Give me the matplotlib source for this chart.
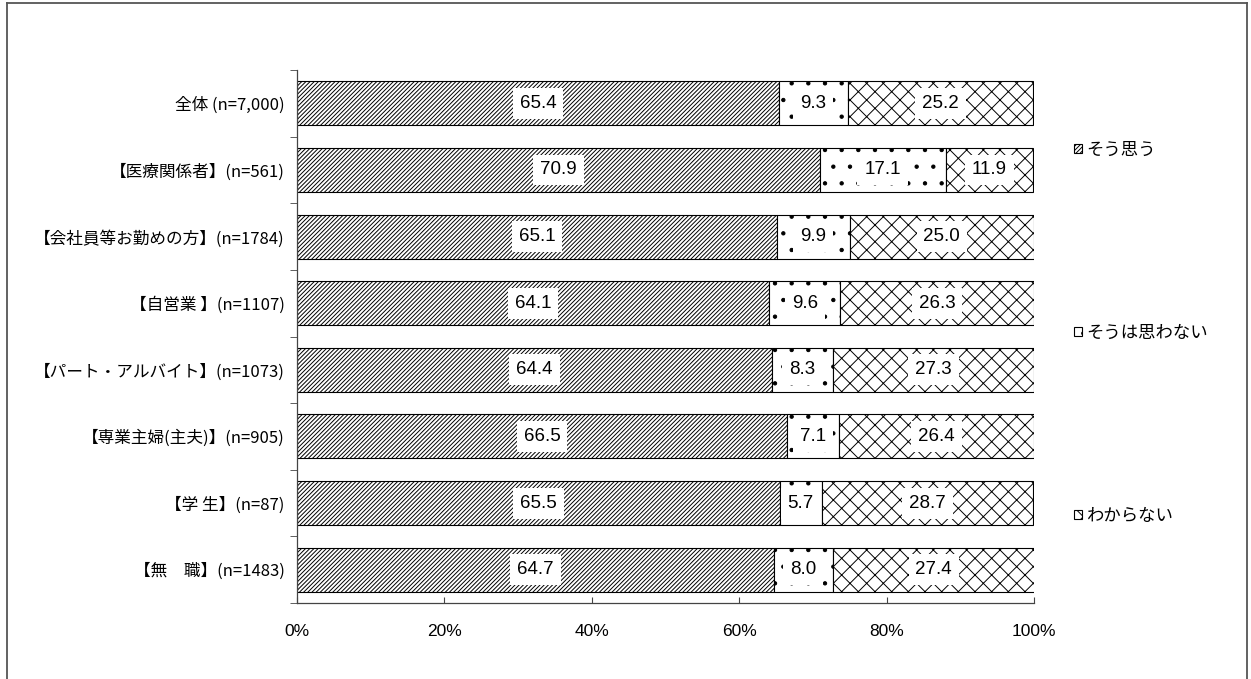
import numpy as np
import matplotlib
matplotlib.use("Agg")
import matplotlib.pyplot as plt
from matplotlib.lines import Line2D
from matplotlib.ticker import FixedLocator, FuncFormatter

plt.rcParams["font.family"] = ["Noto Sans CJK JP", "DejaVu Sans"]
plt.rcParams["hatch.linewidth"] = 0.7

# data
groups = ["全体 (n=7,000)", "【医療関係者】(n=561)", "【会社員等お勤めの方】(n=1784)",
          "【自営業 】(n=1107)", "【パート・アルバイト】(n=1073)", "【専業主婦(主夫)】(n=905)",
          "【学 生】(n=87)", "【無　職】(n=1483)"]
agree = [65.4, 70.9, 65.1, 64.1, 64.4, 66.5, 65.5, 64.7]
disagree = [9.3, 17.1, 9.9, 9.6, 8.3, 7.1, 5.7, 8.0]
unknown = [25.2, 11.9, 25.0, 26.3, 27.3, 26.4, 28.7, 27.4]
series_names = ["そう思う", "そうは思わない", "わからない"]
hatches = ["////////", ".", "xx"]

num_font = ["Liberation Sans Narrow", "Liberation Sans"]

fig = plt.figure(figsize=(12.51, 6.79), dpi=100)
ax = fig.add_axes([297 / 1251, 1 - 603 / 679, (1034 - 297) / 1251, (603 - 70) / 679])

y = np.arange(len(groups))
left = np.zeros(len(groups))
handles = []
for vals, name, h in zip([agree, disagree, unknown], series_names, hatches):
    vals = np.array(vals)
    bars = ax.barh(y, vals, left=left, height=0.66, color="white",
                   edgecolor="black", linewidth=0.8, hatch=h, label=name)
    handles.append(bars)
    for yi, l, v in zip(y, left, vals):
        ax.text(l + v / 2, yi, f"{v:.1f}", ha="center", va="center",
                fontsize=13.5, family=num_font,
                bbox=dict(facecolor="white", edgecolor="none", pad=5))
    left = left + vals

ax.set_xlim(0, 100)
ax.set_ylim(len(groups) - 0.5, -0.5)
ax.set_yticks(y)
ax.set_yticklabels(groups, fontsize=12)
ax.yaxis.set_minor_locator(FixedLocator(np.arange(-0.5, len(groups), 1.0)))
ax.tick_params(axis="y", which="major", length=0, pad=9)
ax.tick_params(axis="y", which="minor", length=5, direction="out", color="#444")

ax.set_xticks(np.arange(0, 101, 20))
ax.xaxis.set_major_formatter(FuncFormatter(lambda v, p: f"{v:.0f}%"))
ax.tick_params(axis="x", direction="in", length=4, pad=15, color="#444")
for lab in ax.get_xticklabels():
    lab.set_family(num_font)
    lab.set_fontsize(12.5)

for s in ["top", "right"]:
    ax.spines[s].set_visible(False)
for s in ["left", "bottom"]:
    ax.spines[s].set_color("#444")
    ax.spines[s].set_linewidth(0.9)

fig.legend(handles=handles, labels=series_names, loc="upper left",
           bbox_to_anchor=(1074 / 1251, 1 - 141 / 679), frameon=False,
           fontsize=12.5, handlelength=0.45, handleheight=0.45, handletextpad=0.25,
           labelspacing=9.5, borderpad=0, borderaxespad=0)

# outer frame of the original image
fig.add_artist(Line2D([7 / 1251, 7 / 1251], [0, 1 - 3 / 679], color="#555", lw=1.3))
fig.add_artist(Line2D([7 / 1251, 1247 / 1251], [1 - 3 / 679, 1 - 3 / 679], color="#555", lw=1.3))
fig.add_artist(Line2D([1247 / 1251, 1247 / 1251], [1 - 3 / 679, 0], color="#555", lw=1.3))

fig.savefig("out.png", dpi=100)
